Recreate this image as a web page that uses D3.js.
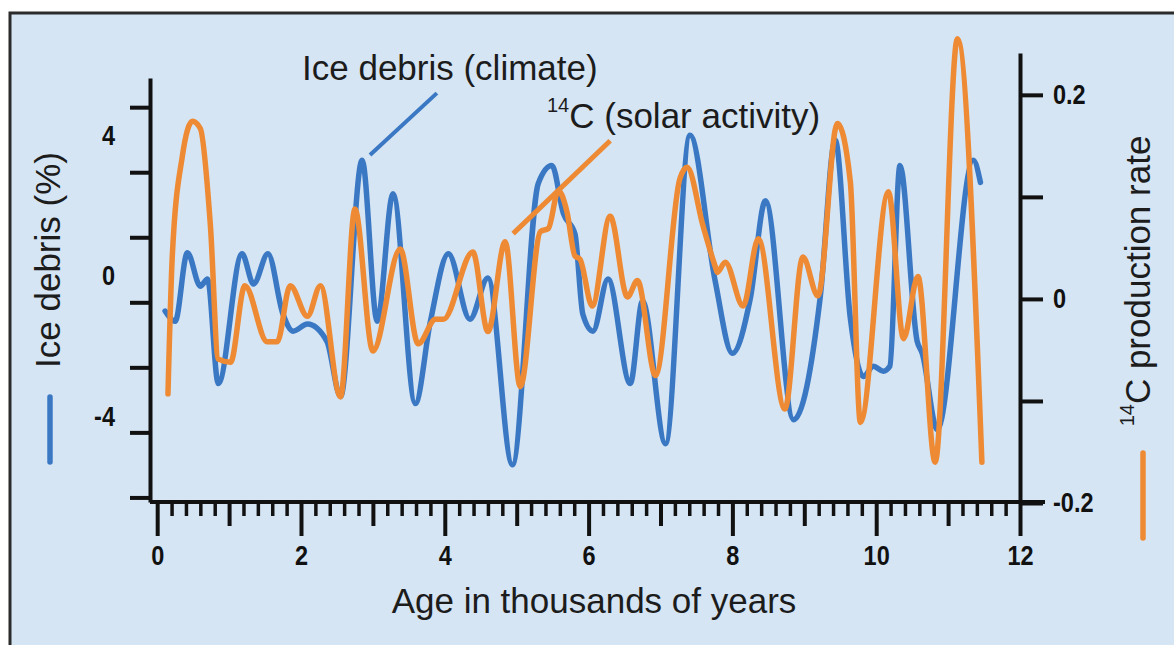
<!DOCTYPE html>
<html>
<head>
<meta charset="utf-8">
<script src="https://cdnjs.cloudflare.com/ajax/libs/d3/7.8.5/d3.min.js"></script>
<style>
  body { margin: 0; background: #fff; }
  svg { display: block; }
  .num text, .num { font-family: "Liberation Sans", Arial, sans-serif; font-weight: bold; font-size: 28px; fill: #111; }
  .note { font-family: "Liberation Sans", Helvetica, Arial, sans-serif; fill: #1c1c1c; }
  .axis path, .axis line { stroke: #111; }
</style>
</head>
<body>
<svg width="1174" height="645"></svg>
<script>
var width = 1174;
var height = 645;

// ice debris (climate), age in thousands of years vs percent
var iceAge = [0.11, 0.25, 0.42, 0.60, 0.70, 0.85, 1.18, 1.34, 1.54, 1.75, 1.89, 2.09, 2.36, 2.55, 2.85, 3.06, 3.28, 3.59, 3.80, 4.05, 4.35, 4.60, 4.94, 5.30, 5.49, 5.65, 5.81, 5.92, 6.06, 6.27, 6.58, 6.75, 7.07, 7.41, 7.76, 8.00, 8.25, 8.46, 8.85, 9.22, 9.43, 9.64, 9.82, 9.96, 10.10, 10.19, 10.33, 10.57, 10.64, 10.85, 11.35, 11.45];
var iceDebris = [-1.00, -1.29, 0.66, -0.29, -0.09, -3.06, 0.63, -0.23, 0.63, -1.09, -1.57, -1.37, -1.86, -3.43, 3.29, -1.29, 2.34, -3.63, -1.29, 0.63, -1.23, -0.06, -5.37, 2.63, 3.14, 1.77, 1.20, -1.09, -1.57, -0.09, -3.06, -0.71, -4.77, 4.00, -0.14, -2.20, -0.63, 2.14, -4.09, -0.63, 3.86, -1.20, -2.86, -2.57, -2.71, -2.57, 3.14, -1.86, -2.20, -4.37, 3.29, 2.66];

// 14C production rate (solar activity)
var c14Age = [0.15, 0.21, 0.35, 0.49, 0.60, 0.74, 0.85, 1.02, 1.22, 1.53, 1.67, 1.85, 2.09, 2.27, 2.55, 2.75, 3.00, 3.38, 3.63, 3.87, 3.98, 4.39, 4.60, 4.84, 5.05, 5.33, 5.44, 5.58, 5.70, 5.81, 5.88, 6.05, 6.30, 6.54, 6.68, 6.93, 7.27, 7.37, 7.59, 7.76, 7.79, 7.90, 8.15, 8.36, 8.73, 8.98, 9.19, 9.46, 9.64, 9.78, 10.17, 10.38, 10.58, 10.82, 11.13, 11.47];
var c14Rate = [-0.093, 0.042, 0.140, 0.174, 0.167, 0.072, -0.059, -0.062, 0.013, -0.042, -0.042, 0.013, -0.017, 0.013, -0.096, 0.088, -0.051, 0.049, -0.044, -0.020, -0.020, 0.046, -0.032, 0.056, -0.086, 0.066, 0.069, 0.106, 0.085, 0.042, 0.039, -0.007, 0.081, 0.002, 0.018, -0.075, 0.118, 0.129, 0.072, 0.032, 0.026, 0.036, -0.007, 0.059, -0.108, 0.041, 0.003, 0.172, 0.115, -0.121, 0.105, -0.039, 0.022, -0.160, 0.255, -0.160];

// ticks and labels
var ageTicks = [0, 2, 4, 6, 8, 10, 12];
var ageOddTicks = [1, 3, 5, 7, 9, 11];
var debrisTicks = [4.8, 2.95, 1.1, -0.75, -2.6, -4.45, -6.3];
var debrisLabels = [4, 0, -4];
var rateTicks = [0.2, 0.1, 0, -0.1, -0.2];
var rateLabels = [0.2, 0, -0.2];

// leader lines for the two callouts
var iceNote = [[2.96, 3.44], [3.89, 5.2]];
var c14Note = [[4.95, 0.064], [6.30, 0.155]];

var blue = "#3b78c4";
var orange = "#ee8a33";
var squeeze = 0.84; // tick digits are condensed in the original

var chart = d3.select("svg");

// background panel and frame
chart.append("rect")
    .attr("x", 10).attr("y", 13)
    .attr("width", width - 10).attr("height", height - 13)
    .attr("fill", "#d5e5f4");
chart.append("path")
    .attr("d", "M10," + height + "V13H" + width)
    .attr("fill", "none")
    .attr("stroke", "#2b2b2b")
    .attr("stroke-width", 3);

var x = d3.scaleLinear().domain([-0.1, 12]).range([150, 1020]);
var yL = d3.scaleLinear().domain([-6.43, 5.63]).range([502, 78]);
var yR = d3.scaleLinear().domain([-0.2, 0.241]).range([503, 53]);

function fmtRate(d) {
    return d === 0 ? "0" : (d < 0 ? "-" : "") + Math.abs(d).toFixed(1);
}

// x axis: minor, odd and even ticks
var minorTicks = d3.range(0, 12.001, 0.2).filter(function (d) {
    return Math.abs(d - Math.round(d)) > 0.01;
});
chart.append("g").attr("class", "axis").attr("transform", "translate(0,502)")
    .call(d3.axisBottom(x).tickValues(minorTicks).tickSize(14).tickSizeOuter(0).tickFormat(""))
    .call(function (g) {
        g.select(".domain").attr("stroke-width", 4).attr("d", "M150,0H1045");
        g.selectAll(".tick line").attr("stroke-width", 3.5);
    });
chart.append("g").attr("class", "axis").attr("transform", "translate(0,502)")
    .call(d3.axisBottom(x).tickValues(ageOddTicks).tickSize(24).tickFormat(""))
    .call(function (g) {
        g.select(".domain").remove();
        g.selectAll(".tick line").attr("stroke-width", 4);
    });
chart.append("g").attr("class", "axis num").attr("transform", "translate(0,502)")
    .call(d3.axisBottom(x).tickValues(ageTicks).tickSize(34).tickPadding(9).tickFormat(d3.format("d")))
    .call(function (g) {
        g.select(".domain").remove();
        g.selectAll(".tick line").attr("stroke-width", 4);
        g.selectAll("text").attr("fill", "#111").attr("font-size", 28)
            .attr("transform", "scale(" + squeeze + ",1)");
    });

// left axis (ice debris)
chart.append("g").attr("class", "axis").attr("transform", "translate(150,0)")
    .call(d3.axisLeft(yL).tickValues(debrisTicks).tickSize(20).tickSizeOuter(0).tickFormat(""))
    .call(function (g) {
        g.select(".domain").attr("stroke-width", 4);
        g.selectAll(".tick line").attr("stroke-width", 4);
    });
chart.append("g").attr("class", "num").attr("transform", "translate(150,0)")
    .call(d3.axisLeft(yL).tickValues(debrisLabels).tickSize(0).tickPadding(35).tickFormat(function (d) { return d < 0 ? "-" + Math.abs(d) : d; }))
    .call(function (g) {
        g.select(".domain").remove();
        g.selectAll("text").attr("fill", "#111").attr("font-size", 28)
            .attr("x", -35 / squeeze)
            .attr("transform", "scale(" + squeeze + ",1)");
    });

// right axis (14C production rate)
chart.append("g").attr("class", "axis").attr("transform", "translate(1020,0)")
    .call(d3.axisRight(yR).tickValues(rateTicks).tickSize(23).tickSizeOuter(0).tickFormat(""))
    .call(function (g) {
        g.select(".domain").attr("stroke-width", 4);
        g.selectAll(".tick line").attr("stroke-width", 4);
    });
chart.append("g").attr("class", "num").attr("transform", "translate(1020,0)")
    .call(d3.axisRight(yR).tickValues(rateLabels).tickSize(0).tickPadding(33).tickFormat(fmtRate))
    .call(function (g) {
        g.select(".domain").remove();
        g.selectAll("text").attr("fill", "#111").attr("font-size", 28)
            .attr("x", 33 / squeeze)
            .attr("transform", "scale(" + squeeze + ",1)");
    });

// series
var iceLine = d3.line()
    .curve(d3.curveMonotoneX)
    .x(function (d, i) { return x(iceAge[i]); })
    .y(function (d) { return yL(d); });
var c14Line = d3.line()
    .curve(d3.curveMonotoneX)
    .x(function (d, i) { return x(c14Age[i]); })
    .y(function (d) { return yR(d); });

chart.append("path")
    .attr("d", iceLine(iceDebris))
    .attr("fill", "none")
    .attr("stroke", blue)
    .attr("stroke-width", 5.5)
    .attr("stroke-linejoin", "round")
    .attr("stroke-linecap", "round");
chart.append("path")
    .attr("d", c14Line(c14Rate))
    .attr("fill", "none")
    .attr("stroke", orange)
    .attr("stroke-width", 5.5)
    .attr("stroke-linejoin", "round")
    .attr("stroke-linecap", "round");

// callouts
chart.append("line")
    .attr("x1", x(iceNote[0][0])).attr("y1", yL(iceNote[0][1]))
    .attr("x2", x(iceNote[1][0])).attr("y2", yL(iceNote[1][1]))
    .attr("stroke", blue).attr("stroke-width", 4);
chart.append("line")
    .attr("x1", x(c14Note[0][0])).attr("y1", yR(c14Note[0][1]))
    .attr("x2", x(c14Note[1][0])).attr("y2", yR(c14Note[1][1]))
    .attr("stroke", orange).attr("stroke-width", 5);

chart.append("text")
    .attr("class", "note")
    .attr("x", 302).attr("y", 80)
    .attr("font-size", 35)
    .text("Ice debris (climate)");
var c14Title = chart.append("text")
    .attr("class", "note")
    .attr("x", 547).attr("y", 128)
    .attr("font-size", 35);
c14Title.append("tspan").attr("font-size", 20).attr("dy", -16).text("14");
c14Title.append("tspan").attr("dy", 16).text("C (solar activity)");

// axis titles
chart.append("text")
    .attr("class", "note")
    .attr("x", 594).attr("y", 613)
    .attr("font-size", 35)
    .attr("text-anchor", "middle")
    .text("Age in thousands of years");
chart.append("text")
    .attr("class", "note")
    .attr("transform", "translate(60,260) rotate(-90)")
    .attr("font-size", 35)
    .attr("text-anchor", "middle")
    .text("Ice debris (%)");
var rateTitle = chart.append("text")
    .attr("class", "note")
    .attr("transform", "translate(1150,281) rotate(-90)")
    .attr("font-size", 35)
    .attr("text-anchor", "middle");
rateTitle.append("tspan").attr("font-size", 20).attr("dy", -16).text("14");
rateTitle.append("tspan").attr("dy", 16).text("C production rate");

// colour keys under the axis titles
chart.append("line")
    .attr("x1", 50).attr("x2", 50).attr("y1", 397).attr("y2", 462)
    .attr("stroke", blue).attr("stroke-width", 5.5).attr("stroke-linecap", "round");
chart.append("line")
    .attr("x1", 1143).attr("x2", 1143).attr("y1", 453).attr("y2", 538)
    .attr("stroke", orange).attr("stroke-width", 5.5).attr("stroke-linecap", "round");
</script>
</body>
</html>
